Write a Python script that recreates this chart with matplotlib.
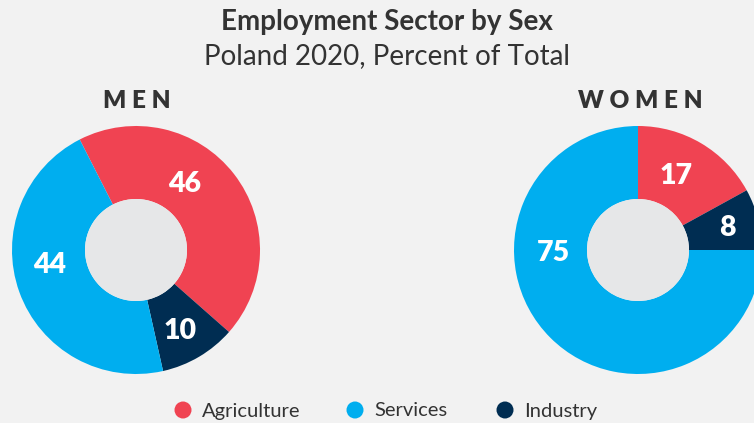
"""
Employment sector by sex, Poland 2020 - two donut charts
"""
import numpy as np
import matplotlib.pyplot as plt
from matplotlib.patches import Circle

# slice order (clockwise): Agriculture, Industry, Services
sectors = ["Agriculture", "Industry", "Services"]
men_slices = [44, 10, 46]
men_labels = ["46", "10", "44"]
women_slices = [17, 8, 75]
women_labels = ["17", "8", "75"]
legend_order = ["Agriculture", "Services", "Industry"]

colors = {"Agriculture": "#F04352", "Services": "#00AEEF", "Industry": "#002D52"}
BG = "#F2F2F2"
HOLE = "#E6E7E8"
TXT = "#333333"
FONT = "Lato"

W, H = 754, 423
fig = plt.figure(figsize=(W / 100, H / 100), dpi=100, facecolor=BG)
ax = fig.add_axes([0, 0, 1, 1])
ax.set_facecolor(BG)


def donut(cx, cy, slices, labels, start, fracs, radii):
    """Draw one donut at pixel centre (cx, cy) (y measured from top)."""
    y = H - cy
    R, r_in = 124, 51
    ax.pie(slices, colors=[colors[s] for s in sectors], startangle=start,
           counterclock=False, center=(cx, y), radius=R,
           wedgeprops=dict(width=R - r_in, linewidth=0))
    ax.add_patch(Circle((cx, y), r_in, facecolor=HOLE, edgecolor="none", zorder=3))
    total = float(sum(slices))
    a0 = start
    for val, lab, f, rr in zip(slices, labels, fracs, radii):
        span = 360 * val / total
        ang = np.radians(a0 - span * f)
        ax.text(cx + rr * np.cos(ang), y + rr * np.sin(ang), lab, color="white",
                fontsize=20.5, fontweight="heavy", family=FONT,
                ha="center", va="center", zorder=4)
        a0 -= span


donut(136, 250, men_slices, men_labels, 117, [0.40, 0.55, 0.56], [82, 92, 88])
donut(638, 250, women_slices, women_labels, 90, [0.45, 0.53, 0.66], [83, 92, 85])

ax.set_xlim(0, W)
ax.set_ylim(0, H)
ax.set_aspect("equal")
ax.axis("off")

# titles
ax.text(387, H - 22, "Employment Sector by Sex", ha="center", va="center",
        fontsize=20, fontweight="bold", family=FONT, color=TXT)
ax.text(387, H - 56, "Poland 2020, Percent of Total", ha="center", va="center",
        fontsize=20, family=FONT, color=TXT)
ax.text(137, H - 101, "M E N", ha="center", va="center", fontsize=17.5,
        fontweight="heavy", family=FONT, color=TXT)
ax.text(640, H - 101, "W O M E N", ha="center", va="center", fontsize=17.5,
        fontweight="heavy", family=FONT, color=TXT)

# legend
dot_x = [183, 355, 505]
for x, name in zip(dot_x, legend_order):
    ax.add_patch(Circle((x, H - 410), 8.5, facecolor=colors[name], edgecolor="none"))
    ax.text(x + 19, H - 411, name, ha="left", va="center", fontsize=14.5,
            family=FONT, color=TXT)

plt.savefig("out.png", dpi=100, facecolor=BG)
